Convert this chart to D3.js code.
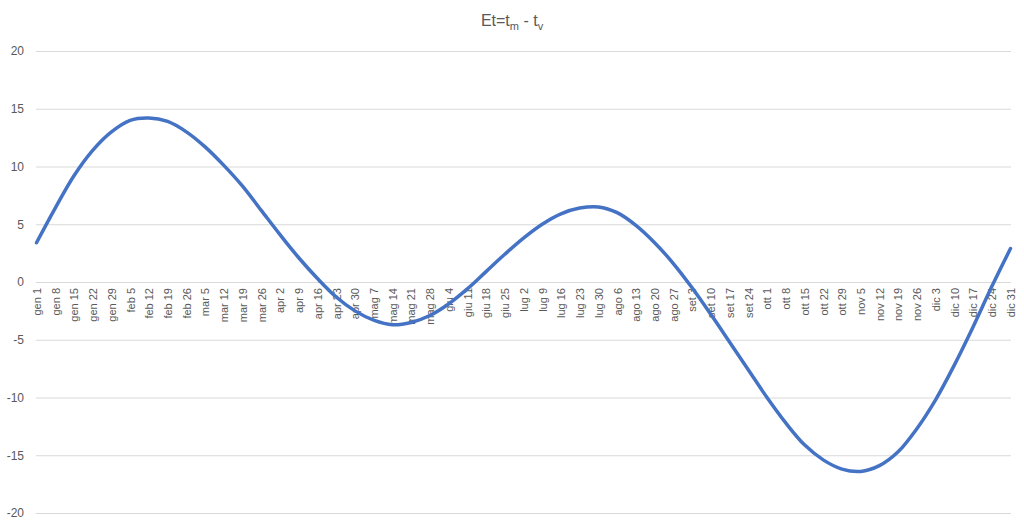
<!DOCTYPE html>
<html>
<head>
<meta charset="utf-8">
<script src="https://cdn.jsdelivr.net/npm/d3@7"></script>
<style>
  html, body { margin: 0; padding: 0; background: #fff; }
  svg { display: block; }
  text { font-family: "Liberation Sans", "Noto Sans", sans-serif; fill: #595959; }
</style>
</head>
<body>
<svg id="chart" width="1024" height="527"></svg>
<script>
// Category labels (weekly)
const categories = ["gen 1","gen 8","gen 15","gen 22","gen 29","feb 5","feb 12","feb 19","feb 26",
  "mar 5","mar 12","mar 19","mar 26","apr 2","apr 9","apr 16","apr 23","apr 30",
  "mag 7","mag 14","mag 21","mag 28","giu 4","giu 11","giu 18","giu 25",
  "lug 2","lug 9","lug 16","lug 23","lug 30","ago 6","ago 13","ago 20","ago 27",
  "set 3","set 10","set 17","set 24","ott 1","ott 8","ott 15","ott 22","ott 29",
  "nov 5","nov 12","nov 19","nov 26","dic 3","dic 10","dic 17","dic 24","dic 31"];
// Et = t_m - t_v (minutes)
const etValues = [3.4, 6.4, 9.2, 11.4, 13.0, 14.0, 14.2, 13.9, 13.0,
  11.7, 10.1, 8.3, 6.2, 4.1, 2.1, 0.3, -1.3, -2.5,
  -3.3, -3.7, -3.5, -2.9, -1.9, -0.6, 0.9, 2.4,
  3.8, 5.0, 5.9, 6.4, 6.5, 6.0, 4.9, 3.4, 1.6,
  -0.5, -2.8, -5.2, -7.6, -10.0, -12.2, -14.1, -15.4, -16.2,
  -16.4, -15.9, -14.7, -12.7, -10.2, -7.2, -3.9, -0.4, 2.9];
const yTicks = [-20, -15, -10, -5, 0, 5, 10, 15, 20];

const svg = d3.select("#chart");
const plotLeft = 36, plotRight = 1011, plotTop = 51, plotBottom = 513;

const x = d3.scalePoint().domain(categories).range([36.5, 1010.5]);
const y = d3.scaleLinear().domain([-20, 20]).range([plotBottom, plotTop]);

// Gridlines + y labels
const yAxis = d3.axisLeft(y).tickValues(yTicks).tickSize(-(plotRight - plotLeft)).tickPadding(12)
  .tickFormat(d => d);
const gy = svg.append("g").attr("transform", `translate(${plotLeft},0)`).call(yAxis);
gy.select(".domain").remove();
gy.selectAll(".tick line").attr("stroke", "#d9d9d9").attr("stroke-width", 1);
gy.selectAll(".tick text").attr("font-size", 12).style("fill", "#595959")
  .attr("font-family", "Liberation Sans, sans-serif");

// Category axis at y=0
const xAxis = d3.axisBottom(x).tickSize(0).tickPadding(0);
const gx = svg.append("g").attr("transform", `translate(0,${y(0)})`).call(xAxis);
gx.select(".domain").remove();
gx.selectAll(".tick text")
  .attr("font-size", 11)
  .attr("font-family", "Liberation Sans, sans-serif")
  .style("fill", "#595959")
  .attr("text-anchor", "end")
  .attr("dy", "0.35em")
  .attr("transform", "translate(0,6) rotate(-90)")
  .attr("x", 0).attr("y", 0);

// Line
const line = d3.line()
  .x((d, i) => x(categories[i]))
  .y(d => y(d))
  .curve(d3.curveCatmullRom.alpha(0.5));
svg.append("path").datum(etValues)
  .attr("d", line)
  .attr("fill", "none")
  .attr("stroke", "#4472C4")
  .attr("stroke-width", 3.5)
  .attr("stroke-linejoin", "round")
  .attr("stroke-linecap", "round");

// Title
const title = svg.append("text")
  .attr("x", 512).attr("y", 26)
  .attr("text-anchor", "middle")
  .attr("font-size", 16)
  .attr("font-family", "Liberation Sans, sans-serif")
  .style("fill", "#595959");
title.append("tspan").text("Et=t");
title.append("tspan").text("m").attr("font-size", 11).attr("dy", 4);
title.append("tspan").text(" - t").attr("dy", -4);
title.append("tspan").text("v").attr("font-size", 11).attr("dy", 4);
</script>
</body>
</html>
